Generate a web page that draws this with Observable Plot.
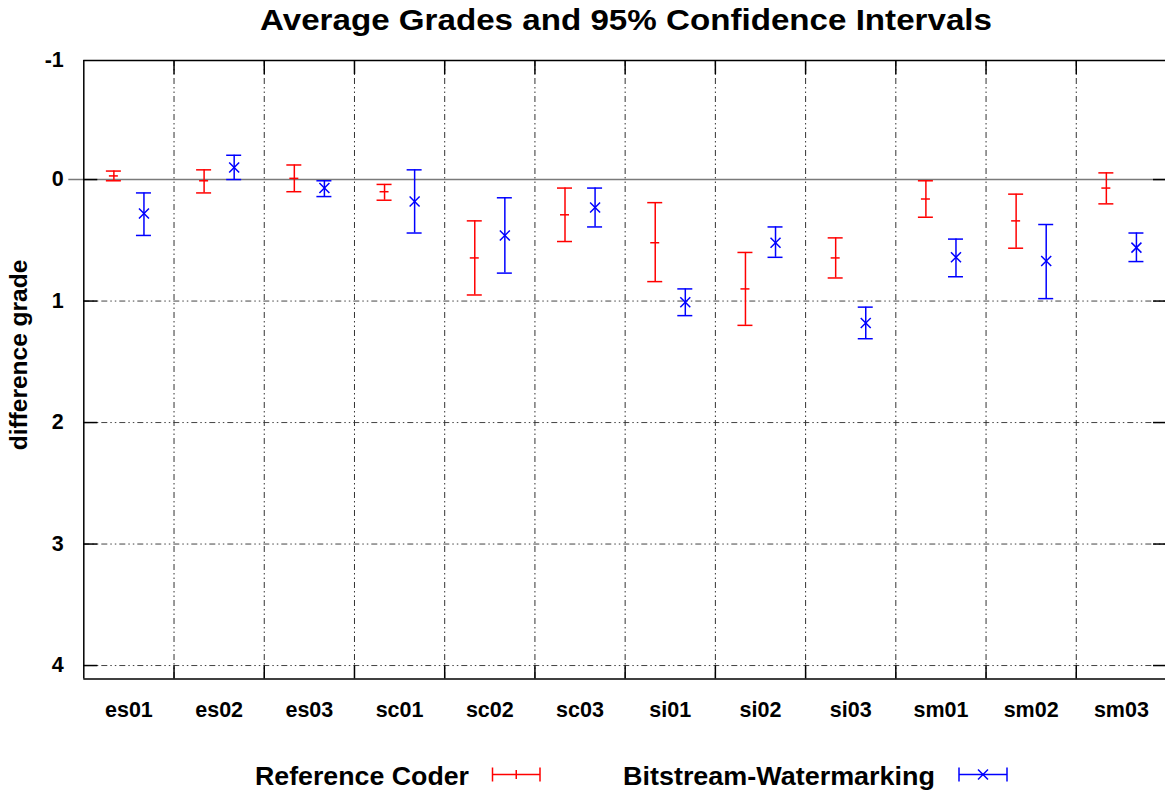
<!DOCTYPE html>
<html>
<head>
<meta charset="utf-8">
<script src="https://cdn.jsdelivr.net/npm/d3@7"></script>
<script src="https://cdn.jsdelivr.net/npm/@observablehq/plot@0.6"></script>
<style>
  body { margin: 0; background: #fff; }
  svg { display: block; }
</style>
</head>
<body>
<div id="chart"></div>
<script>
// ---- data ----
const categories = ["es01","es02","es03","sc01","sc02","sc03","si01","si02","si03","sm01","sm02","sm03"];
const refMean = [-0.03, 0.01, -0.01, 0.10, 0.645, 0.29, 0.52, 0.90, 0.645, 0.16, 0.34, 0.07];
const refLow  = [-0.07, -0.08, -0.12, 0.04, 0.34, 0.07, 0.19, 0.60, 0.48, 0.01, 0.12, -0.055];
const refHigh = [0.01, 0.11, 0.10, 0.17, 0.95, 0.51, 0.84, 1.20, 0.81, 0.31, 0.565, 0.20];
const bwMean  = [0.28, -0.10, 0.07, 0.18, 0.46, 0.23, 1.01, 0.52, 1.18, 0.64, 0.67, 0.56];
const bwLow   = [0.11, -0.20, 0.01, -0.08, 0.15, 0.07, 0.90, 0.39, 1.05, 0.49, 0.37, 0.44];
const bwHigh  = [0.46, 0.00, 0.14, 0.44, 0.77, 0.39, 1.12, 0.64, 1.31, 0.80, 0.98, 0.675];
const yTicks = [-1, 0, 1, 2, 3, 4];
const seriesNames = ["Reference Coder", "Bitstream-Watermarking"];
const seriesColors = ["#ff0000", "#0000ff"];

// ---- layout ----
const W = 1165, H = 791;
const X0 = 83.3, X1 = 1166, Y0 = 60, Y1 = 678.4;
const xDom = [0.5, 12.5], yDom = [-0.98, 4.11];
const pxX = (X1 - X0) / (xDom[1] - xDom[0]);
const pxY = (Y1 - Y0) / (yDom[1] - yDom[0]);
const ux = p => p / pxX, uy = p => p / pxY;

const refRows = categories.map((c, i) => ({cat: c, x: i + 1 - 1/6, mean: refMean[i], lo: refLow[i], hi: refHigh[i]}));
const bwRows  = categories.map((c, i) => ({cat: c, x: i + 1 + 1/6, mean: bwMean[i], lo: bwLow[i], hi: bwHigh[i]}));
const bounds = d3.range(1.5, 12, 1);
const grid = "6,3,1.5,3,1.5,3";
const font = "Liberation Sans, Arial, Helvetica, sans-serif";

function errMarks(rows, color) {
  const cap = ux(7.5);
  return [
    Plot.ruleX(rows, {x: "x", y1: "lo", y2: "hi", stroke: color, strokeWidth: 1.5}),
    Plot.ruleY(rows, {y: "lo", x1: d => d.x - cap, x2: d => d.x + cap, stroke: color, strokeWidth: 1.5}),
    Plot.ruleY(rows, {y: "hi", x1: d => d.x - cap, x2: d => d.x + cap, stroke: color, strokeWidth: 1.5})
  ];
}

const chart = Plot.plot({
  width: W, height: H,
  style: {fontFamily: font, background: "#fff"},
  x: {type: "linear", domain: xDom, range: [X0, X1], axis: null},
  y: {type: "linear", domain: yDom, range: [Y0, Y1], axis: null},
  marks: [
    // grid
    Plot.ruleY([1, 2, 3, 4], {x1: xDom[0], x2: xDom[1], stroke: "#444", strokeWidth: 1, strokeDasharray: grid}),
    Plot.ruleX(bounds, {y1: yDom[0], y2: yDom[1], stroke: "#333", strokeWidth: 1, strokeDasharray: grid}),
    // zero axis
    Plot.ruleY([0], {x1: xDom[0] - ux(15), x2: xDom[1], stroke: "#7a7a7a", strokeWidth: 1.6}),
    // border
    Plot.ruleX(xDom, {y1: yDom[0], y2: yDom[1], stroke: "#000", strokeWidth: 1.5}),
    Plot.ruleY(yDom, {x1: xDom[0], x2: xDom[1], stroke: "#000", strokeWidth: 1.5}),
    // ticks
    Plot.ruleY(yTicks.filter(d => d >= 0), {x1: xDom[0], x2: xDom[0] + ux(14), stroke: "#000", strokeWidth: 1.5}),
    Plot.ruleY(yTicks.filter(d => d >= 0), {x1: xDom[1] - ux(13), x2: xDom[1], stroke: "#000", strokeWidth: 1.5}),
    Plot.ruleX(bounds, {y1: yDom[1] - uy(13), y2: yDom[1], stroke: "#000", strokeWidth: 1.5}),
    Plot.ruleX(bounds, {y1: yDom[0], y2: yDom[0] + uy(14), stroke: "#000", strokeWidth: 1.5}),
    // error bars
    ...errMarks(refRows, seriesColors[0]),
    ...errMarks(bwRows, seriesColors[1]),
    // markers: + for reference, x for watermarking
    Plot.ruleY(refRows, {y: "mean", x1: d => d.x - ux(4.5), x2: d => d.x + ux(4.5), stroke: seriesColors[0], strokeWidth: 1.5}),
    Plot.link(bwRows, {x1: d => d.x - ux(5), y1: d => d.mean - uy(5), x2: d => d.x + ux(5), y2: d => d.mean + uy(5), stroke: seriesColors[1], strokeWidth: 1.5}),
    Plot.link(bwRows, {x1: d => d.x - ux(5), y1: d => d.mean + uy(5), x2: d => d.x + ux(5), y2: d => d.mean - uy(5), stroke: seriesColors[1], strokeWidth: 1.5}),
    // tick labels
    Plot.text(yTicks, {x: xDom[0], y: d => Math.max(d, yDom[0]), dx: -20, textAnchor: "end", text: d => String(d), fontSize: 21.5, fontWeight: "bold", fill: "#000"}),
    Plot.text(categories, {x: (d, i) => i + 1, y: yDom[1], dy: 31, text: d => d, fontSize: 21.5, fontWeight: "bold", fill: "#000"})
  ]
});

document.getElementById("chart").appendChild(chart);

// title, axis label, legend
const svg = d3.select(chart);
svg.append("text")
  .attr("x", 626).attr("y", 30)
  .attr("text-anchor", "middle")
  .attr("font-family", font).attr("font-weight", "bold").attr("font-size", 30)
  .attr("textLength", 732).attr("lengthAdjust", "spacingAndGlyphs")
  .text("Average Grades and 95% Confidence Intervals");

svg.append("text")
  .attr("transform", "translate(27,355) rotate(-90)")
  .attr("text-anchor", "middle")
  .attr("font-family", font).attr("font-weight", "bold").attr("font-size", 24.5)
  .text("difference grade");

const leg = [
  {name: seriesNames[0], color: seriesColors[0], textEnd: 469, textLen: 214, s0: 492.5, s1: 540, mark: "plus"},
  {name: seriesNames[1], color: seriesColors[1], textEnd: 935, textLen: 312, s0: 959, s1: 1007, mark: "times"}
];
const ly = 774.5;
leg.forEach(l => {
  svg.append("text")
    .attr("x", l.textEnd - l.textLen).attr("y", 785)
    .attr("text-anchor", "start")
    .attr("font-family", font).attr("font-weight", "bold").attr("font-size", 25)
    .attr("textLength", l.textLen).attr("lengthAdjust", "spacingAndGlyphs")
    .text(l.name);
  const g = svg.append("g").attr("stroke", l.color).attr("stroke-width", 1.5).attr("fill", "none");
  g.append("line").attr("x1", l.s0).attr("x2", l.s1).attr("y1", ly).attr("y2", ly);
  g.append("line").attr("x1", l.s0).attr("x2", l.s0).attr("y1", ly - 7).attr("y2", ly + 7);
  g.append("line").attr("x1", l.s1).attr("x2", l.s1).attr("y1", ly - 7).attr("y2", ly + 7);
  const cx = (l.s0 + l.s1) / 2;
  if (l.mark === "plus") {
    g.append("line").attr("x1", cx).attr("x2", cx).attr("y1", ly - 4.5).attr("y2", ly + 4.5);
  } else {
    g.append("line").attr("x1", cx - 5).attr("x2", cx + 5).attr("y1", ly - 5).attr("y2", ly + 5);
    g.append("line").attr("x1", cx - 5).attr("x2", cx + 5).attr("y1", ly + 5).attr("y2", ly - 5);
  }
});
</script>
</body>
</html>
